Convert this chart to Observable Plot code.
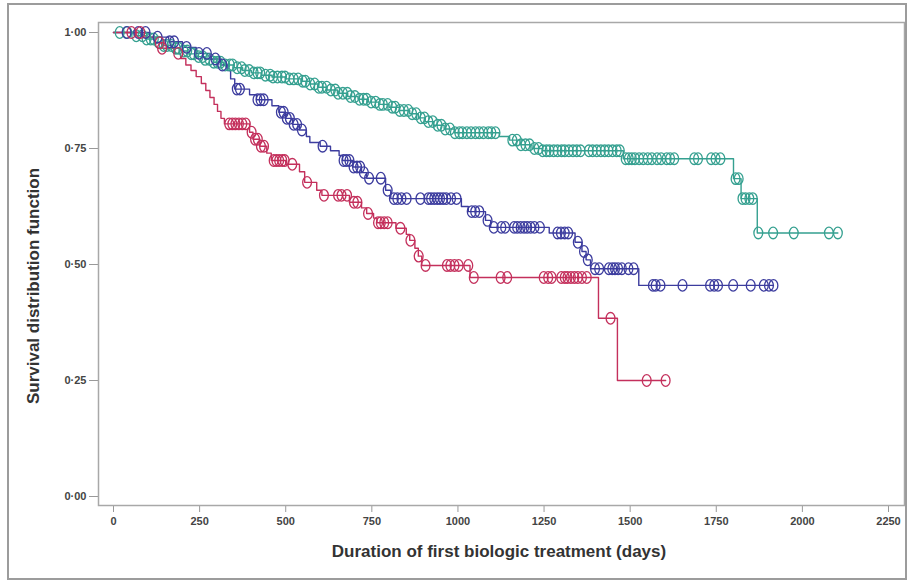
<!DOCTYPE html>
<html><head><meta charset="utf-8">
<script src="https://cdn.jsdelivr.net/npm/d3@7"></script>
<script src="https://cdn.jsdelivr.net/npm/@observablehq/plot@0.6"></script>
<style>
html,body{margin:0;padding:0;background:#fff;}
#wrap{position:relative;width:910px;height:583px;overflow:hidden;}
#border{position:absolute;left:7px;top:3px;width:896px;height:573px;border:2px solid #9c9c9c;pointer-events:none;}
</style></head><body><div id="wrap"><div id="border"></div></div>
<script>
// ---------- data ----------
const xTicks = [0, 250, 500, 750, 1000, 1250, 1500, 1750, 2000, 2250];
const yTicks = [0, 0.25, 0.5, 0.75, 1];
const yTickLabels = ["0·00", "0·25", "0·50", "0·75", "1·00"];
const xTitle = "Duration of first biologic treatment (days)";
const yTitle = "Survival distribution function";

// step points: time (days) where survival drops, survival after the drop
const tealStepT = [0, 60, 95, 120, 145, 170, 195, 215, 240, 265, 290, 320, 350, 375, 400, 430, 460, 500, 545, 570, 595, 620, 650, 680, 710, 740, 770, 800, 830, 860, 885, 905, 930, 960, 990, 1120, 1150, 1180, 1215, 1245, 1480, 1800, 1822, 1869];
const tealStepS = [1, 0.993, 0.986, 0.979, 0.972, 0.966, 0.96, 0.954, 0.948, 0.942, 0.936, 0.93, 0.924, 0.918, 0.913, 0.908, 0.904, 0.9, 0.895, 0.889, 0.882, 0.876, 0.869, 0.862, 0.856, 0.85, 0.845, 0.839, 0.832, 0.825, 0.816, 0.808, 0.8, 0.792, 0.784, 0.776, 0.768, 0.758, 0.75, 0.745, 0.728, 0.685, 0.642, 0.568];
const tealCensor = [18, 40, 66, 84, 96, 108, 117, 131, 146, 155, 168, 181, 189, 203, 214, 226, 233, 247, 259, 266, 279, 291, 302, 311, 324, 338, 346, 359, 372, 381, 394, 407, 418, 426, 441, 455, 463, 476, 489, 498, 511, 523, 536, 549, 557, 571, 584, 596, 605, 619, 631, 644, 652, 666, 679, 688, 701, 714, 726, 735, 748, 761, 773, 782, 796, 809, 818, 831, 843, 856, 867, 879, 892, 903, 914, 927, 941, 952, 963, 977, 991, 1004, 1013, 1026, 1038, 1051, 1062, 1074, 1088, 1097, 1109, 1158, 1171, 1183, 1196, 1208, 1222, 1234, 1246, 1257, 1266, 1278, 1289, 1301, 1310, 1322, 1334, 1345, 1356, 1380, 1391, 1403, 1415, 1426, 1437, 1449, 1461, 1470, 1487, 1496, 1505, 1514, 1526, 1538, 1551, 1563, 1578, 1590, 1606, 1616, 1628, 1686, 1697, 1735, 1748, 1762, 1806, 1815, 1826, 1835, 1846, 1856, 1872, 1915, 1975, 2077, 2103];

const blueStepT = [0, 105, 160, 200, 240, 280, 310, 330, 340, 352, 395, 415, 460, 480, 500, 520, 540, 560, 570, 600, 630, 655, 665, 695, 720, 735, 790, 805, 1010, 1030, 1080, 1095, 1265, 1340, 1360, 1372, 1385, 1525];
const blueStepS = [1, 0.99, 0.98, 0.968, 0.955, 0.943, 0.93, 0.918, 0.9, 0.878, 0.866, 0.855, 0.842, 0.828, 0.815, 0.802, 0.79, 0.776, 0.763, 0.755, 0.745, 0.735, 0.724, 0.71, 0.698, 0.686, 0.66, 0.642, 0.625, 0.614, 0.595, 0.58, 0.568, 0.548, 0.528, 0.51, 0.491, 0.455];
const blueCensor = [38, 72, 93, 128, 163, 176, 212, 248, 271, 296, 316, 358, 367, 418, 427, 436, 486, 494, 503, 512, 523, 533, 547, 607, 668, 676, 685, 697, 707, 716, 727, 742, 776, 796, 814, 824, 836, 851, 891, 914, 922, 931, 940, 948, 957, 966, 980, 996, 1040, 1050, 1062, 1086, 1104, 1126, 1137, 1163, 1172, 1182, 1192, 1201, 1211, 1222, 1238, 1289, 1299, 1310, 1320, 1348, 1366, 1377, 1398, 1410, 1438, 1448, 1456, 1465, 1476, 1495, 1510, 1566, 1574, 1588, 1652, 1732, 1744, 1755, 1799, 1850, 1888, 1903, 1916];

const crimStepT = [0, 85, 120, 140, 175, 195, 210, 225, 240, 255, 268, 280, 292, 302, 312, 322, 395, 405, 425, 445, 458, 500, 540, 555, 590, 605, 685, 720, 735, 755, 765, 820, 850, 860, 875, 885, 895, 1035, 1408, 1463];
const crimStepS = [1, 0.99, 0.978, 0.966, 0.955, 0.944, 0.93, 0.918, 0.905, 0.89, 0.875, 0.86, 0.845, 0.83, 0.815, 0.803, 0.785, 0.77, 0.755, 0.74, 0.724, 0.716, 0.7, 0.677, 0.66, 0.649, 0.634, 0.622, 0.61, 0.6, 0.59, 0.578, 0.565, 0.552, 0.535, 0.518, 0.498, 0.472, 0.384, 0.25];
const crimCensor = [52, 78, 134, 141, 188, 336, 345, 354, 364, 374, 384, 401, 411, 419, 428, 437, 465, 473, 481, 490, 497, 519, 562, 611, 652, 662, 678, 698, 708, 739, 768, 776, 786, 796, 833, 862, 886, 906, 968, 978, 990, 1002, 1030, 1046, 1124, 1143, 1249, 1262, 1272, 1300, 1310, 1318, 1328, 1338, 1348, 1360, 1374, 1443, 1548, 1603];

const seriesNames = ["Group A", "Group B", "Group C"];
const seriesColors = ["#35a090", "#3c3c9e", "#c4305c"];

// ---------- build tables ----------
function build(name, T, S, C) {
  const line = T.map((t, i) => ({series: name, t, s: S[i]}));
  const last = C[C.length - 1];
  line.push({series: name, t: Math.max(last, T[T.length - 1]), s: S[S.length - 1]});
  const surv = (t) => { let v = S[0]; for (let i = 0; i < T.length; i++) if (T[i] <= t) v = S[i]; return v; };
  const cens = C.map(t => ({series: name, t, s: surv(t)}));
  return {line, cens};
}
const groups = [
  build(seriesNames[0], tealStepT, tealStepS, tealCensor),
  build(seriesNames[1], blueStepT, blueStepS, blueCensor),
  build(seriesNames[2], crimStepT, crimStepS, crimCensor)
];
const lines = groups.flatMap(g => g.line);
const cens = groups.flatMap(g => g.cens);

const ellipse = {
  draw(context) {
    const rx = 4.4, ry = 5.8, k = 0.5523;
    context.moveTo(rx, 0);
    context.bezierCurveTo(rx, k * ry, k * rx, ry, 0, ry);
    context.bezierCurveTo(-k * rx, ry, -rx, k * ry, -rx, 0);
    context.bezierCurveTo(-rx, -k * ry, -k * rx, -ry, 0, -ry);
    context.bezierCurveTo(k * rx, -ry, rx, -k * ry, rx, 0);
    context.closePath();
  }
};

const font = "'Liberation Sans', Arial, sans-serif";

const chart = Plot.plot({
  width: 910, height: 583,
  marginLeft: 98, marginRight: 6, marginTop: 22, marginBottom: 78,
  insetLeft: 15, insetRight: 16, insetTop: 10, insetBottom: 9,
  x: {domain: [0, 2250]},
  y: {domain: [0, 1]},
  color: {type: "ordinal", domain: seriesNames, range: seriesColors},
  style: {fontFamily: font, fontSize: "11px", color: "#444", background: "transparent"},
  marks: [
    Plot.axisX({ticks: xTicks, tickSize: 7, tickPadding: 5, label: null, stroke: "#999", fontWeight: "bold", fill: "#444",
      tickFormat: (d) => String(d)}),
    Plot.axisY({ticks: yTicks, tickSize: 9, tickPadding: 3, label: null, stroke: "#999", fontWeight: "bold", fill: "#444",
      tickFormat: (d) => yTickLabels[yTicks.indexOf(d)]}),
    Plot.frame({stroke: "#a8a8a8", strokeWidth: 1.5}),
    Plot.line(lines, {x: "t", y: "s", z: "series", stroke: "series", curve: "step-after", strokeWidth: 1.4}),
    Plot.dot(cens, {x: "t", y: "s", stroke: "series", symbol: ellipse, fill: "none", strokeWidth: 1.3})
  ]
});

const svg = d3.select(chart);
svg.append("text")
  .attr("x", 499).attr("y", 557)
  .attr("text-anchor", "middle")
  .style("font-family", font).style("font-weight", "bold").style("font-size", "17px").style("fill", "#333")
  .text(xTitle);
svg.append("text")
  .attr("transform", "translate(39,286) rotate(-90)")
  .attr("text-anchor", "middle")
  .style("font-family", font).style("font-weight", "bold").style("font-size", "17px").style("fill", "#333")
  .text(yTitle);

document.getElementById("wrap").prepend(chart);
</script></body></html>
